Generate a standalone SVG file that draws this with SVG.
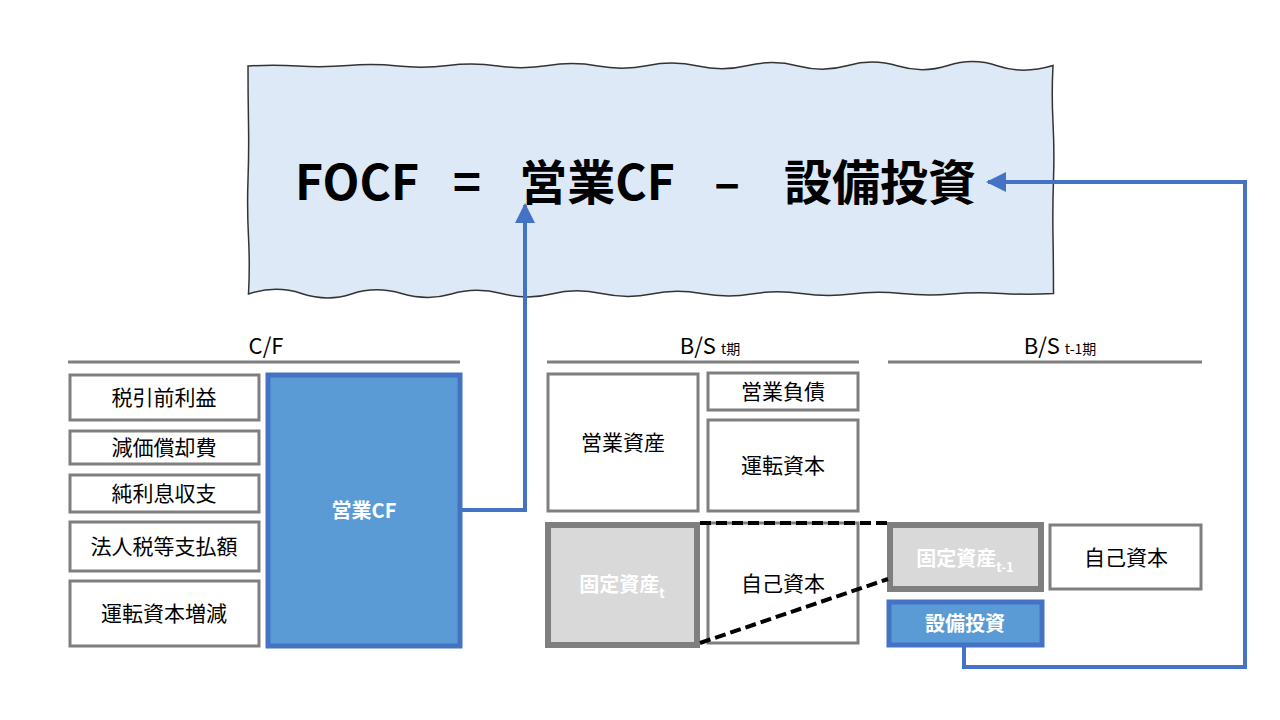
<svg xmlns="http://www.w3.org/2000/svg" width="1280" height="720" viewBox="0 0 1280 720">
<defs>
<marker id="ah" viewBox="0 0 10 10" refX="9" refY="5" markerWidth="5" markerHeight="5" orient="auto" markerUnits="strokeWidth"><path d="M0,0 L10,5 L0,10 z" fill="#4472c4"/></marker>
</defs>
<style>
text{font-family:"Noto Sans CJK JP","Liberation Sans",sans-serif;text-anchor:middle;}
.b{fill:#fff;stroke:#7f7f7f;stroke-width:3;}
.g{fill:#d9d9d9;stroke:#7f7f7f;stroke-width:6;}
.bl{fill:#5b9bd5;stroke:#4472c4;stroke-width:5;}
.t{font-size:21px;fill:#000;}
.w{font-size:20px;fill:#fff;font-weight:bold;}
.h{font-size:22px;fill:#000;}
.rule{stroke:#7f7f7f;stroke-width:3;}
.c{fill:none;stroke:#4472c4;stroke-width:4;}
.d{stroke:#000;stroke-width:4;stroke-dasharray:11 5;}
.f{font-size:48px;font-weight:bold;fill:#000;}
</style>
<rect width="1280" height="720" fill="#fff"/>
<g id="formula">
<path d="M248,66 q25,-1.5 50,0 t50,-0.5 t50,0.5 t50,-0.5 t50,0.5 t50,-0.5 t50,0.5 t50,-0.5 t50,0.5 t50,-0.5 t50,0.5 t50,-0.5 t50,0.5 t50,-0.5 t50,0.5 t55,-0.5 q-1.5,28 0,57 t0.5,57 t-0.5,57 t0.5,57 q-26,1.5 -52,0 t-50,0.5 t-50,-0.5 t-50,0.5 t-50,-0.5 t-50,0.5 t-50,-0.5 t-50,0.5 t-50,-0.5 t-50,0.5 t-50,-0.5 t-50,0.5 t-50,-0.5 t-50,0.5 t-50,-0.5 t-53,0.5 q1.5,-28 0,-57 t-0.5,-57 t0.5,-57 t-0.5,-57 z" fill="#dde9f6" stroke="#333" stroke-width="1.5"/>
<text x="357" y="200" class="f">FOCF</text>
<text x="467" y="200" class="f">=</text>
<text x="597" y="200" class="f">営業CF</text>
<text x="727" y="200" class="f">–</text>
<text x="880" y="200" class="f">設備投資</text>
</g>
<g id="cf">
<text x="266" y="354" class="h">C/F</text>
<line x1="68" y1="362" x2="460" y2="362" class="rule"/>
<g id="n1"><rect x="70" y="375" width="189" height="45" class="b"/><text x="164" y="405" class="t">税引前利益</text></g>
<g id="n2"><rect x="70" y="431" width="189" height="33" class="b"/><text x="164" y="455" class="t">減価償却費</text></g>
<g id="n3"><rect x="70" y="475" width="189" height="37" class="b"/><text x="164" y="501" class="t">純利息収支</text></g>
<g id="n4"><rect x="70" y="522" width="189" height="49" class="b"/><text x="164" y="554" class="t">法人税等支払額</text></g>
<g id="n5"><rect x="70" y="581" width="189" height="65" class="b"/><text x="164" y="621" class="t">運転資本増減</text></g>
<g id="opcf"><rect x="268" y="375" width="192" height="271" class="bl"/><text x="364" y="518" class="w">営業CF</text></g>
</g>
<g id="bst">
<text x="710" y="354" class="h">B/S <tspan style="font-size:14px">t期</tspan></text>
<line x1="547" y1="362" x2="859" y2="362" class="rule"/>
<g id="n6"><rect x="548" y="374" width="150" height="137" class="b"/><text x="623" y="450" class="t">営業資産</text></g>
<g id="n7"><rect x="708" y="373" width="150" height="37" class="b"/><text x="783" y="399" class="t">営業負債</text></g>
<g id="n8"><rect x="708" y="420" width="150" height="91" class="b"/><text x="783" y="473" class="t">運転資本</text></g>
<g id="n9"><rect x="548" y="525" width="149" height="120" class="g"/><text x="622" y="592" class="w">固定資産<tspan style="font-size:13px" dy="6">t</tspan></text></g>
<g id="n10"><rect x="708" y="523" width="150" height="120" class="b"/><text x="783" y="591" class="t">自己資本</text></g>
</g>
<g id="bst1">
<text x="1060" y="354" class="h">B/S <tspan style="font-size:14px">t-1期</tspan></text>
<line x1="888" y1="362" x2="1202" y2="362" class="rule"/>
<g id="n11"><rect x="890" y="525" width="151" height="64" class="g"/><text x="965" y="566" class="w">固定資産<tspan style="font-size:13px" dy="6">t-1</tspan></text></g>
<g id="n12"><rect x="1050" y="525" width="151" height="64" class="b"/><text x="1126" y="565" class="t">自己資本</text></g>
<g id="capex"><rect x="889" y="602" width="153" height="43" class="bl"/><text x="965" y="631" class="w">設備投資</text></g>
</g>
<g id="connectors">
<line x1="700" y1="523" x2="888" y2="523" class="d"/>
<line x1="700" y1="643" x2="888" y2="579" class="d"/>
<path d="M460,510 H525 V205" class="c" marker-end="url(#ah)"/>
<path d="M964,645 V667 H1245 V182 H988" class="c" marker-end="url(#ah)"/>
</g>
</svg>
